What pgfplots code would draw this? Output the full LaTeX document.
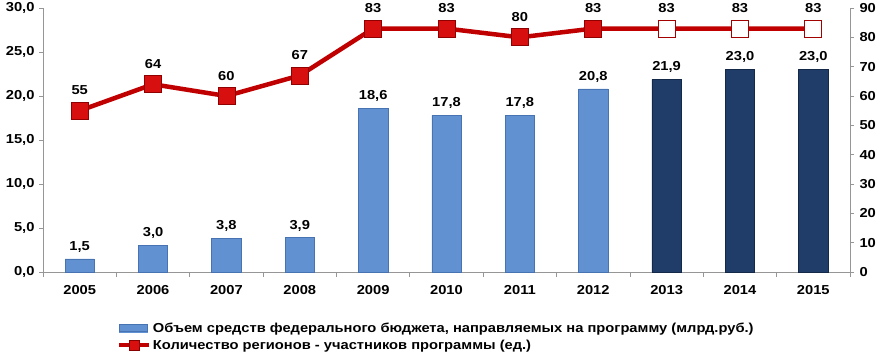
\documentclass[border=0pt]{standalone}
\usepackage{pgfplots}
\pgfplotsset{compat=1.18}
\usepackage{fontspec}
\setmainfont{Liberation Sans}[FakeStretch=1.13]
\definecolor{barlight}{RGB}{98,145,210}
\definecolor{barlightedge}{RGB}{72,115,178}
\definecolor{bardark}{RGB}{31,61,104}
\definecolor{bardarkedge}{RGB}{20,40,72}
\definecolor{linered}{RGB}{192,0,0}
\definecolor{markred}{RGB}{215,15,15}
\definecolor{axgray}{RGB}{150,150,150}
\begin{document}
\begin{tikzpicture}[font=\fontsize{13bp}{15bp}\selectfont\bfseries]
\useasboundingbox (0,0) rectangle (880bp,355bp);
\begin{axis}[
  at={(43bp,83bp)}, anchor=south west,
  scale only axis, width=807bp, height=264bp,
  xmin=-0.5, xmax=10.5, ymin=0, ymax=30,
  xtick={0,...,10},
  xticklabels={2005,2006,2007,2008,2009,2010,2011,2012,2013,2014,2015},
  ytick={0,5,...,30},
  yticklabel style={/pgf/number format/fixed, /pgf/number format/fixed zerofill, /pgf/number format/precision=1, /pgf/number format/use comma, xshift=-1bp},
  /pgf/number format/assume math mode=true,
  axis x line*=bottom, axis y line*=left,
  axis line style={draw=axgray, line width=0.8pt, -},
  tick align=outside,
  tick style={draw=axgray, line width=0.8pt},
  major x tick style={draw=none},
  minor xtick={-0.5,0.5,...,10.5},
  minor tick length=5bp, major tick length=4bp,
  xticklabel style={yshift=-6bp},
  clip=false,
]
\addplot[ybar, bar width=0.4, bar shift=0pt, fill=barlight, draw=barlightedge, line width=0.6pt,
  nodes near coords={\pgfmathprintnumber[fixed,fixed zerofill,precision=1,use comma,assume math mode=true]{\pgfplotspointmeta}},
  every node near coord/.append style={text=black, anchor=south, yshift=3bp, font=\fontsize{13bp}{15bp}\selectfont\bfseries}]
  coordinates {(0,1.5)(1,3.0)(2,3.8)(3,3.9)(4,18.6)(5,17.8)(6,17.8)(7,20.8)};
\addplot[ybar, bar width=0.4, bar shift=0pt, fill=bardark, draw=bardarkedge, line width=0.6pt,
  nodes near coords={\pgfmathprintnumber[fixed,fixed zerofill,precision=1,use comma,assume math mode=true]{\pgfplotspointmeta}},
  every node near coord/.append style={text=black, anchor=south, yshift=3bp, font=\fontsize{13bp}{15bp}\selectfont\bfseries}]
  coordinates {(8,21.9)(9,23.0)(10,23.0)};
\end{axis}
\begin{axis}[
  at={(43bp,83bp)}, anchor=south west,
  scale only axis, width=807bp, height=264bp,
  xmin=-0.5, xmax=10.5, ymin=0, ymax=90,
  ytick={0,10,...,90},
  /pgf/number format/assume math mode=true,
  axis y line*=right, axis x line=none,
  axis line style={draw=axgray, line width=0.8pt, -},
  tick align=outside,
  tick style={draw=axgray, line width=0.8pt},
  major tick length=4bp,
  yticklabel style={xshift=2bp},
  clip=false,
  legend style={at={(0.487,-0.18)}, anchor=north, draw=none, fill=none,
    cells={anchor=west}, row sep=2bp, inner sep=1bp,
    nodes={inner xsep=1.5bp},
    font=\fontsize{13bp}{15bp}\selectfont\bfseries},
]
\addlegendimage{legend image code/.code={
  \fill[barlight] (0bp,-3.5bp) rectangle (28bp,3.5bp);
  \draw[barlightedge, line width=0.5pt] (0bp,-3.5bp) rectangle (28bp,3.5bp);}}
\addlegendentry{Объем средств федерального бюджета, направляемых на программу (млрд.руб.)}
\addlegendimage{legend image code/.code={
  \draw[linered, line width=4.5bp] (0bp,0bp) -- (30bp,0bp);
  \filldraw[fill=markred, draw=linered!70!black, line width=0.6pt] (10bp,-5bp) rectangle (20bp,5bp);}}
\addlegendentry{Количество регионов - участников программы (ед.)}
\addplot[linered, line width=4.5bp, mark=square*, mark size=8.5bp,
  mark options={fill=markred, draw=linered!75!black, line width=0.8pt},
  nodes near coords, point meta=explicit symbolic,
  every node near coord/.append style={text=black, anchor=south, yshift=12bp, font=\fontsize{13bp}{15bp}\selectfont\bfseries},
  forget plot]
  coordinates {(0,55)[55] (1,64)[64] (2,60)[60] (3,67)[67] (4,83)[83] (5,83)[83] (6,80)[80] (7,83)[83] (8,83)[83] (9,83)[83] (10,83)[83]};
\addplot[only marks, mark=square*, mark size=8.5bp,
  mark options={fill=white, draw=linered!85!black, line width=0.8pt}, forget plot]
  coordinates {(8,83)(9,83)(10,83)};
\end{axis}
\end{tikzpicture}
\end{document}
